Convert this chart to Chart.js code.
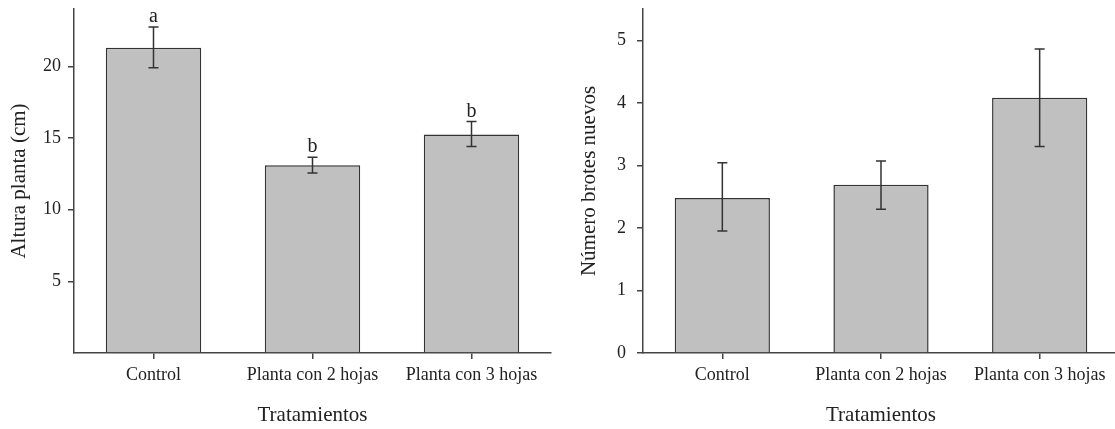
<!DOCTYPE html>
<html>
<head>
<meta charset="utf-8">
<script src="https://cdn.jsdelivr.net/npm/chart.js@4"></script>
<style>
  html, body { margin: 0; padding: 0; background: #fff; overflow: hidden; }
  body { width: 1115px; height: 429px; position: relative; }
  #left { position: absolute; left: 0; top: 0; }
  #right { position: absolute; left: 557px; top: 0; }
</style>
</head>
<body>
<canvas id="left" width="557" height="429"></canvas>
<canvas id="right" width="566" height="429"></canvas>
<script>
// datos
const tratamientos = ['Control', 'Planta con 2 hojas', 'Planta con 3 hojas'];

const alturaMedia = [21.3, 13.1, 15.25];
const alturaSup = [22.75, 13.65, 16.15];
const alturaInf = [19.9, 12.55, 14.4];
const letras = ['a', 'b', 'b'];

const brotesMedia = [2.48, 2.69, 4.08];
const brotesSup = [3.04, 3.07, 4.86];
const brotesInf = [1.95, 2.30, 3.30];

const fuente = "'Liberation Serif', 'Times New Roman', serif";
const colorEje = '#444';
const colorTexto = '#222';

// barras de error (y letras opcionales) sobre cada barra
const errorBars = {
  id: 'errorBars',
  afterDatasetsDraw(chart, args, opts) {
    const ctx = chart.ctx;
    const y = chart.scales.y;
    const meta = chart.getDatasetMeta(0);
    ctx.save();
    ctx.strokeStyle = '#333';
    ctx.lineWidth = 1.5;
    meta.data.forEach((bar, i) => {
      const yHi = y.getPixelForValue(opts.sup[i]);
      const yLo = y.getPixelForValue(opts.inf[i]);
      ctx.beginPath();
      ctx.moveTo(bar.x, yHi);
      ctx.lineTo(bar.x, yLo);
      ctx.moveTo(bar.x - 5, yHi);
      ctx.lineTo(bar.x + 5, yHi);
      ctx.moveTo(bar.x - 5, yLo);
      ctx.lineTo(bar.x + 5, yLo);
      ctx.stroke();
      if (opts.letras) {
        ctx.fillStyle = colorTexto;
        ctx.font = '20px ' + fuente;
        ctx.textAlign = 'center';
        ctx.textBaseline = 'alphabetic';
        ctx.fillText(opts.letras[i], bar.x, yHi - 5);
      }
    });
    ctx.restore();
  }
};

function sinPadding(scale) {
  scale.paddingTop = 0;
  scale.paddingBottom = 0;
  scale.paddingLeft = 0;
  scale.paddingRight = 0;
}

function crearGrafico(id, cfg) {
  return new Chart(document.getElementById(id), {
    type: 'bar',
    data: {
      labels: tratamientos,
      datasets: [{
        data: cfg.valores,
        backgroundColor: '#c0c0c0',
        borderColor: '#333',
        borderWidth: 1.5,
        barPercentage: 0.6,
        categoryPercentage: 1
      }]
    },
    options: {
      responsive: false,
      animation: false,
      layout: { padding: { top: 9, right: cfg.padDer, left: 0, bottom: 0 } },
      plugins: {
        legend: { display: false },
        tooltip: { enabled: false },
        errorBars: { sup: cfg.sup, inf: cfg.inf, letras: cfg.letras }
      },
      scales: {
        x: {
          offset: true,
          afterFit(scale) { scale.height = 76; sinPadding(scale); },
          grid: { offset: false, drawOnChartArea: false, drawTicks: true, tickLength: 6, color: colorEje, lineWidth: 1.5 },
          border: { display: true, color: colorEje, width: 1.5 },
          ticks: { padding: 5, color: colorTexto, font: { family: fuente, size: 18 } },
          title: {
            display: true,
            text: 'Tratamientos',
            color: colorTexto,
            font: { family: fuente, size: 21 },
            padding: { top: 0, bottom: 1 }
          }
        },
        y: {
          min: 0,
          max: cfg.max,
          afterFit(scale) { scale.width = cfg.anchoY; sinPadding(scale); },
          grid: {
            drawOnChartArea: false,
            drawTicks: true,
            tickLength: 6,
            lineWidth: 1.5,
            color: c => (cfg.ocultarCero && c.tick && c.tick.value === 0) ? 'rgba(0,0,0,0)' : colorEje
          },
          border: { display: true, color: colorEje, width: 1.5 },
          ticks: {
            stepSize: cfg.paso,
            includeBounds: false,
            padding: cfg.padTick,
            color: colorTexto,
            font: { family: fuente, size: 18 },
            callback: v => (cfg.ocultarCero && v === 0) ? '' : v
          },
          title: {
            display: true,
            text: cfg.tituloY,
            color: colorTexto,
            font: { family: fuente, size: 21 },
            padding: { top: cfg.padTitulo, bottom: 0 }
          }
        }
      }
    },
    plugins: [errorBars]
  });
}

crearGrafico('left', {
  valores: alturaMedia, sup: alturaSup, inf: alturaInf, letras: letras,
  max: 24, paso: 5, ocultarCero: true,
  anchoY: 74, padDer: 6, padTick: 7, padTitulo: 7,
  tituloY: 'Altura planta (cm)'
});

crearGrafico('right', {
  valores: brotesMedia, sup: brotesSup, inf: brotesInf, letras: null,
  max: 5.5, paso: 1, ocultarCero: false,
  anchoY: 86, padDer: 4, padTick: 11, padTitulo: 20,
  tituloY: 'Número brotes nuevos'
});
</script>
</body>
</html>
